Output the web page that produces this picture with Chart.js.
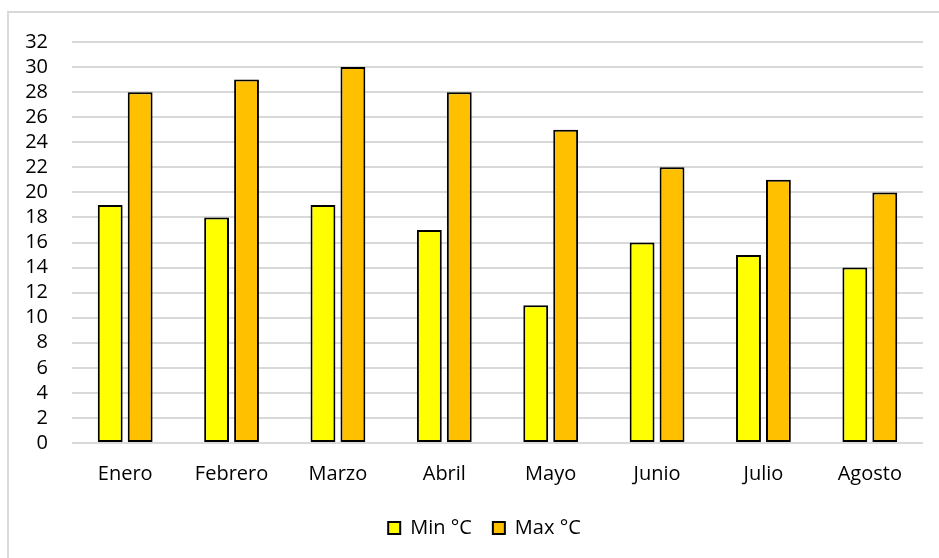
<!DOCTYPE html>
<html>
<head>
<meta charset="utf-8">
<script src="https://cdn.jsdelivr.net/npm/chart.js@4"></script>
<style>
  html, body { margin: 0; padding: 0; background: #fff; }
  #wrap { position: relative; width: 939px; height: 558px; overflow: hidden; }
  #frame { position: absolute; left: 7px; top: 11px; width: 1000px; height: 600px;
           border: 2px solid #d9d9d9; box-sizing: border-box; }
  canvas { position: absolute; left: 0; top: 0; }
</style>
</head>
<body>
<div id="wrap">
  <div id="frame"></div>
  <canvas id="myChart" width="939" height="558"></canvas>
</div>
<script>
// months
var labels = ["Enero", "Febrero", "Marzo", "Abril", "Mayo", "Junio", "Julio", "Agosto"];
// temperatures
var minTemp = [19, 18, 19, 17, 11, 16, 15, 14];
var maxTemp = [28, 29, 30, 28, 25, 22, 21, 20];

var font = { family: "'Open Sans', sans-serif", size: 20 };

var data = {
    labels: labels,
    datasets: [{
        label: "Min °C",
        data: minTemp,
        backgroundColor: "#FFFF00",
        borderColor: "#000000",
        borderWidth: 2,
        borderSkipped: false,
        barPercentage: 0.83,
        categoryPercentage: 0.563
    }, {
        label: "Max °C",
        data: maxTemp,
        backgroundColor: "#FFC000",
        borderColor: "#000000",
        borderWidth: 2,
        borderSkipped: false,
        barPercentage: 0.83,
        categoryPercentage: 0.563
    }]
};

// push the legend a bit to the right, like the excel one
var legendShift = {
    id: "legendShift",
    afterLayout: function (chart) {
        if (chart.legend) chart.legend.left += 46;
    }
};

var config = {
    type: "bar",
    data: data,
    plugins: [legendShift],
    options: {
        responsive: false,
        animation: false,
        layout: { padding: { top: 42, right: 16, bottom: 10, left: 0 } },
        plugins: {
            tooltip: { enabled: false },
            legend: {
                position: "bottom",
                labels: {
                    color: "#000",
                    font: font,
                    boxWidth: 12,
                    boxHeight: 12,
                    padding: 21
                }
            }
        },
        scales: {
            x: {
                grid: { display: false },
                border: { display: false },
                ticks: { color: "#000", font: font, padding: 11, maxRotation: 0 },
                afterFit: function (s) { s.height = 54; }
            },
            y: {
                min: 0,
                max: 32,
                ticks: { stepSize: 2, autoSkip: false, color: "#000", font: font, padding: 24 },
                grid: { color: "#d9d9d9", lineWidth: 2, drawTicks: false },
                border: { display: false },
                afterFit: function (s) { s.width = 72; }
            }
        }
    }
};

var myChart = new Chart(document.getElementById("myChart"), config);
</script>
</body>
</html>
